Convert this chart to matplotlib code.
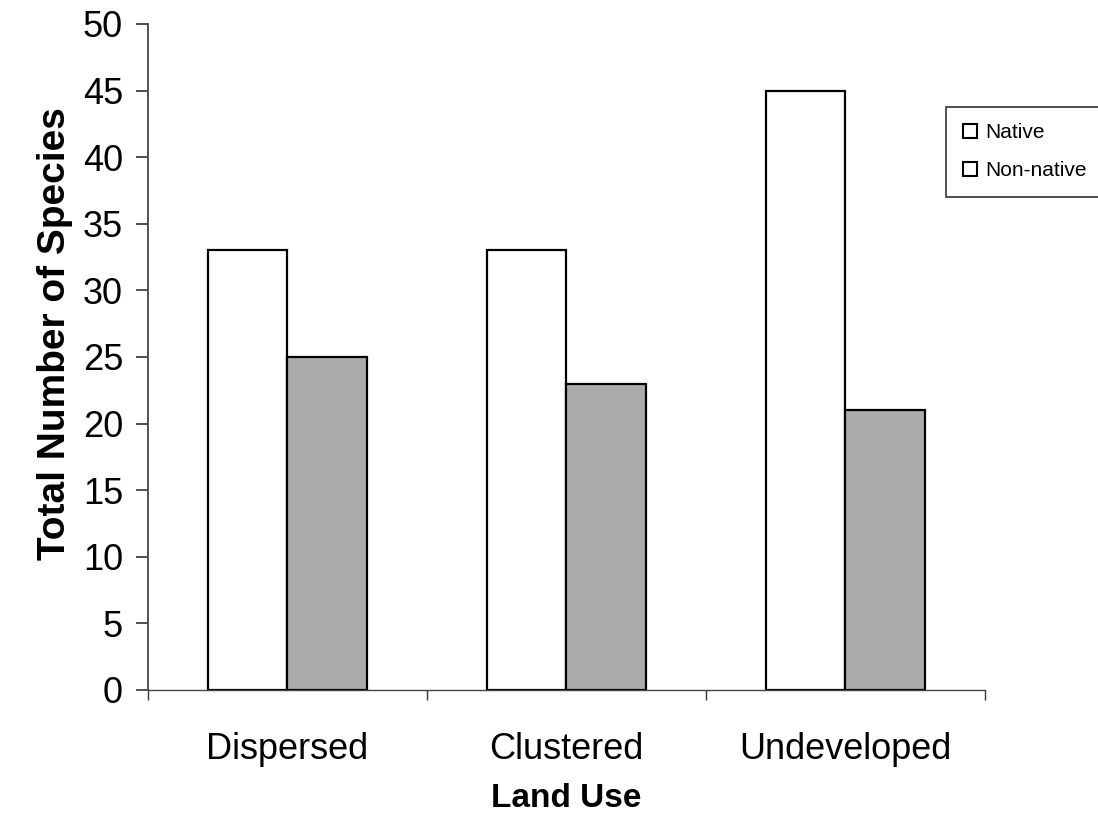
import matplotlib.pyplot as plt
import numpy as np

# species counts per land use class
land_use = ["Dispersed", "Clustered", "Undeveloped"]
native = [33, 33, 45]
non_native = [25, 23, 21]
y_ticks = [0, 5, 10, 15, 20, 25, 30, 35, 40, 45, 50]

plt.rcParams['font.family'] = ['Liberation Sans', 'DejaVu Sans']

fig = plt.figure(figsize=(10.98, 8.21), dpi=100)
ax = fig.add_axes([0.1348, 0.1596, 0.7622, 0.8112])

x = np.arange(len(land_use))
w = 0.285
ax.bar(x - w / 2, native, w, color='white', edgecolor='black', linewidth=1.6, label='Native')
ax.bar(x + w / 2, non_native, w, color='#ababab', edgecolor='black', linewidth=1.6, label='Non-native')

ax.set_xlim(-0.5, 2.5)
ax.set_ylim(0, 50)
ax.set_yticks(y_ticks)
ax.tick_params(axis='y', labelsize=26, length=9, width=1.2, pad=9, color='#333333')

# category boundaries get the tick marks, names sit between them
ax.set_xticks(np.arange(-0.5, 3.0, 1.0))
ax.set_xticklabels([])
ax.set_xticks(x, minor=True)
ax.set_xticklabels(land_use, minor=True)
ax.tick_params(axis='x', which='major', length=7, width=1.0, color='#333333')
ax.tick_params(axis='x', which='minor', length=0, labelsize=26, pad=30)

for side in ['top', 'right']:
    ax.spines[side].set_visible(False)
ax.spines['left'].set_color('#444444')
ax.spines['bottom'].set_color('#444444')
ax.spines['left'].set_linewidth(1.3)
ax.spines['bottom'].set_linewidth(1.0)

ax.set_ylabel('Total Number of Species', fontsize=28, fontweight='bold')
ax.yaxis.set_label_coords(-0.09, 0.535)
ax.set_xlabel('Land Use', fontsize=24, fontweight='bold', labelpad=12)

leg = fig.legend(loc='upper left', bbox_to_anchor=(0.862, 0.870), fontsize=15,
                 frameon=True, fancybox=False, edgecolor='black', borderpad=0.8,
                 handlelength=0.65, handleheight=0.65, handletextpad=0.4,
                 labelspacing=0.9, borderaxespad=0)
leg.get_frame().set_linewidth(1.2)
for h in leg.legend_handles:
    h.set_facecolor('white')
    h.set_linewidth(1.5)

fig.savefig('out.png', dpi=100)
